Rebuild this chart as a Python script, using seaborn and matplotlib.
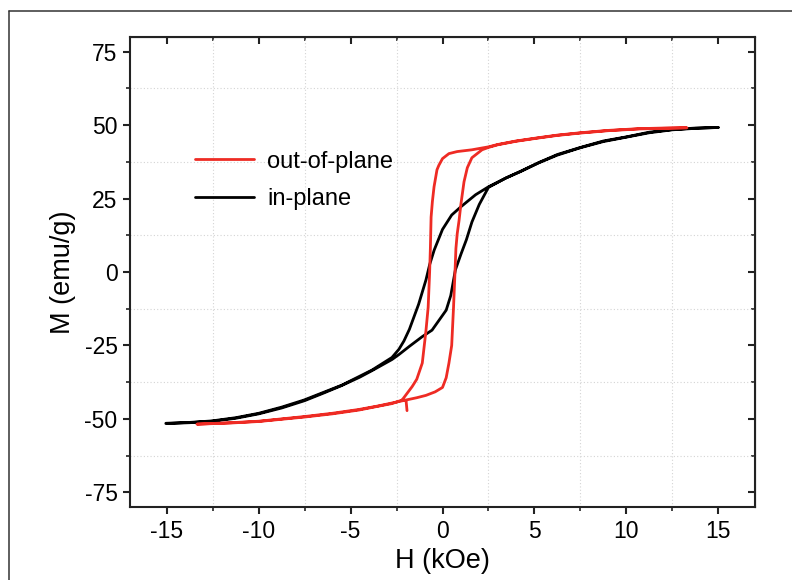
import matplotlib
matplotlib.use("Agg")
import matplotlib.pyplot as plt
from matplotlib.lines import Line2D
from matplotlib.ticker import MultipleLocator
import pandas as pd
import seaborn as sns

# out-of-plane loop (red)
oop_tail_h = [-1.93, -1.98]
oop_tail_m = [-47.2, -43.9]
oop_down_h = [13.3, 12, 10.7, 9, 7.5, 6.25, 5.2, 4, 3, 2.5, 1.6, 0.8, 0.35, 0.0, -0.2, -0.3,
              -0.46, -0.55, -0.62, -0.66, -0.7, -0.78, -0.9, -1.1, -1.4, -1.65, -2.2, -2.75, -3.5,
              -4.55, -6, -7.54, -10, -11.5, -13.36]
oop_down_m = [49.1, 49.0, 48.8, 48.2, 47.4, 46.6, 45.7, 44.6, 43.4, 42.6, 41.6, 41.0, 40.3, 38.6,
              36.3, 34.8, 29, 24, 18.7, 8, 0, -12, -20, -31, -36.5, -39, -43.6, -44.8, -45.7,
              -47, -48.3, -49.4, -50.9, -51.4, -51.8]
oop_up_h = [-13.36, -11.5, -10, -7.5, -6, -4.55, -3.5, -2.75, -2.0, -1.4, -0.9, -0.4, 0.0, 0.2,
            0.35, 0.5, 0.6, 0.68, 0.73, 0.8, 0.9, 1.0, 1.17, 1.35, 1.6, 2.15, 2.5, 3, 4,
            5.2, 6.25, 7.5, 9, 10.7, 12, 13.3]
oop_up_m = [-51.8, -51.3, -50.8, -49.2, -48.1, -46.8, -45.6, -44.6, -43.6, -42.8, -42, -40.8, -39.3,
            -36, -31, -25, -12, 0, 8, 13, 17.5, 23, 30.7, 35.5, 38.9, 41.6, 42.4, 43.3, 44.5,
            45.6, 46.5, 47.3, 48.1, 48.7, 48.9, 49.1]

# in-plane loop (black)
ip_down_h = [15, 13.75, 12.5, 11.25, 10, 8.75, 7.5, 6.25, 5.25, 4.25, 3.45, 2.5, 1.8, 1.0, 0.5,
             0, -0.45, -0.7, -0.9, -1.3, -1.8, -2.1, -2.37, -2.75, -3.84, -5.47, -7.54, -8.75,
             -10, -11.25, -12.55, -13.75, -15.05]
ip_down_m = [49.2, 48.9, 48.4, 47.4, 45.9, 44.4, 42.3, 39.8, 37.2, 34.2, 32, 29, 26.3, 22.2, 19.4,
             14.5, 7.5, 2.5, -2.7, -11, -19.5, -23.5, -26.3, -29.1, -33.4, -38.5, -43.6, -46,
             -48.1, -49.6, -50.7, -51.2, -51.5]
ip_up_h = [-15.05, -13.75, -12.5, -11.25, -10, -8.75, -7.5, -6.5, -5.5, -4.5, -3.84, -2.75, -2.37,
           -1.8, -1.1, -0.57, 0.2, 0.45, 0.7, 1.0, 1.3, 1.6, 2.0, 2.5, 3.45, 4.25, 5.25, 6.25,
           7.5, 8.75, 10, 11.25, 12.5, 13.75, 15]
ip_up_m = [-51.6, -51.3, -50.8, -49.8, -48.3, -46.3, -43.8, -41.3, -38.7, -35.8, -33.6, -29.8, -28.1,
           -25.3, -22, -19.8, -13, -8, 0.7, 6, 11, 17, 23, 28.8, 32, 34.3, 37.3, 40,
           42.4, 44.6, 46, 47.6, 48.5, 49, 49.2]

# one continuous trace per loop: tail, rest of descending branch, ascending branch, back down
k = oop_down_h.index(-2.2)
oop_h = oop_tail_h + oop_down_h[k:] + oop_up_h + oop_down_h[:k + 1]
oop_m = oop_tail_m + oop_down_m[k:] + oop_up_m + oop_down_m[:k + 1]
ip_h = ip_down_h + ip_up_h
ip_m = ip_down_m + ip_up_m

df = pd.concat([
    pd.DataFrame({"H": ip_h, "M": ip_m, "sample": "in-plane"}),
    pd.DataFrame({"H": oop_h, "M": oop_m, "sample": "out-of-plane"}),
], ignore_index=True)

sns.set_style("ticks")
plt.rcParams["font.family"] = ["Liberation Sans", "DejaVu Sans"]
plt.rcParams["axes.unicode_minus"] = False
plt.rcParams["text.color"] = "black"
plt.rcParams["axes.labelcolor"] = "black"
plt.rcParams["xtick.color"] = "black"
plt.rcParams["ytick.color"] = "black"

fig = plt.figure(figsize=(7.92, 5.80), dpi=100)
ax = fig.add_axes([130 / 792, 1 - 507 / 580, 625 / 792, 470 / 580])

sns.lineplot(data=df, x="H", y="M", hue="sample", sort=False, estimator=None,
             hue_order=["in-plane", "out-of-plane"],
             palette={"in-plane": "#000000", "out-of-plane": "#ee2b24"},
             linewidth=2.0, ax=ax)

ax.set_xlim(-17, 17)
ax.set_ylim(-80, 80)
ax.xaxis.set_major_locator(MultipleLocator(5))
ax.xaxis.set_minor_locator(MultipleLocator(2.5))
ax.yaxis.set_major_locator(MultipleLocator(25))
ax.yaxis.set_minor_locator(MultipleLocator(12.5))
ax.grid(False)
ax.grid(which="minor", linestyle=(0, (1, 2)), color="#d4d4d4", linewidth=0.8)
ax.set_axisbelow(True)

for s in ax.spines.values():
    s.set_visible(True)
    s.set_linewidth(1.5)
    s.set_color("#222222")

ax.tick_params(which="major", direction="out", length=5, width=1.5, labelsize=16.5,
               color="#222222", labelcolor="black", pad=4)
ax.tick_params(which="minor", direction="out", length=2.8, width=1.2, color="#222222")

# inward ticks on top and right, no labels
top = ax.secondary_xaxis("top")
top.xaxis.set_major_locator(MultipleLocator(5))
top.xaxis.set_minor_locator(MultipleLocator(2.5))
top.tick_params(which="major", direction="in", length=5, width=1.5, labeltop=False, color="#222222")
top.tick_params(which="minor", direction="in", length=2.8, width=1.2, color="#222222")
right = ax.secondary_yaxis("right")
right.yaxis.set_major_locator(MultipleLocator(25))
right.yaxis.set_minor_locator(MultipleLocator(12.5))
right.tick_params(which="major", direction="in", length=5, width=1.5, labelright=False, color="#222222")
right.tick_params(which="minor", direction="in", length=2.8, width=1.2, color="#222222")

ax.set_xlabel("H (kOe)", fontsize=19.5, labelpad=4, color="black")
ax.set_ylabel("M (emu/g)", fontsize=19.5, labelpad=6, color="black")

handles, labels = ax.get_legend_handles_labels()
order = [labels.index("out-of-plane"), labels.index("in-plane")]
ax.legend([handles[i] for i in order], [labels[i] for i in order],
          loc="upper left", bbox_to_anchor=(0.104, 0.758), frameon=False,
          borderpad=0, borderaxespad=0, fontsize=17, handlelength=2.5,
          labelspacing=0.65, handletextpad=0.55)

# thin frame around the figure, as in the source image
fig.add_artist(Line2D([9 / 792, 1], [1 - 11 / 580, 1 - 11 / 580], transform=fig.transFigure,
                      color="#333333", linewidth=1.1))
fig.add_artist(Line2D([9 / 792, 9 / 792], [0, 1 - 11 / 580], transform=fig.transFigure,
                      color="#333333", linewidth=1.1))

fig.savefig("out.png", dpi=100)
